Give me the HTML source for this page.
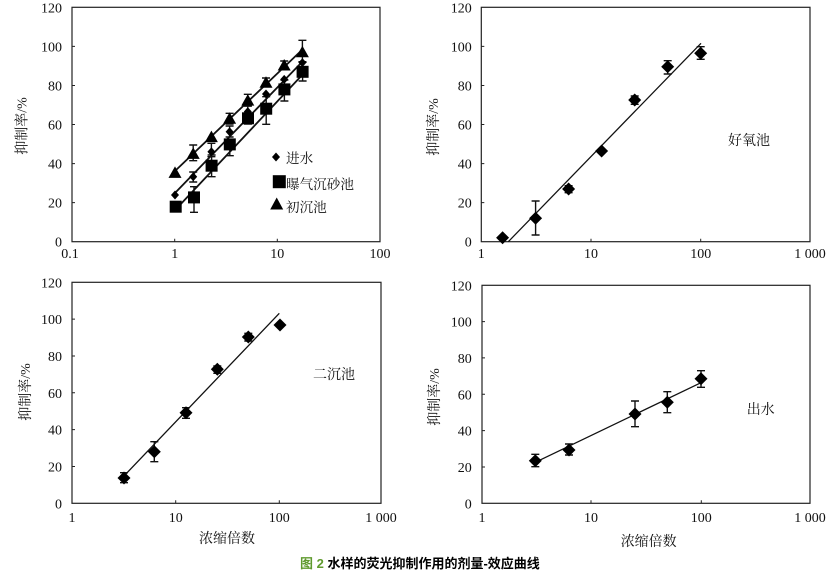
<!DOCTYPE html>
<html><head><meta charset="utf-8"><style>
html,body{margin:0;padding:0;background:#fff;}
svg{display:block;}
.n{font-family:"Liberation Serif","Noto Serif CJK SC",serif;font-size:14px;fill:#111;}
.c{font-family:"Liberation Serif","Noto Serif CJK SC",serif;font-size:14px;fill:#111;}
.cap{font-family:"Liberation Sans","Noto Sans CJK SC",sans-serif;font-size:13px;font-weight:bold;fill:#000;}
</style></head><body>
<svg width="840" height="574" viewBox="0 0 840 574" xmlns="http://www.w3.org/2000/svg">
<g fill="none" stroke="#222" stroke-width="1.2">
<rect x="72" y="7.3" width="308" height="234.4"/>
<rect x="481.3" y="7.3" width="328.7" height="234.4"/>
<rect x="72" y="282.3" width="309" height="221"/>
<rect x="482" y="285.3" width="328" height="218"/>
</g>
<!-- ticks -->
<g stroke="#222" stroke-width="1">
<path d="M72 202.6h3M72 163.6h3M72 124.5h3M72 85.5h3M72 46.4h3M174.7 241.7v-3M277.3 241.7v-3"/>
<path d="M481.3 202.6h3M481.3 163.6h3M481.3 124.5h3M481.3 85.5h3M481.3 46.4h3M591 241.7v-3M700.7 241.7v-3"/>
<path d="M72 466.5h3M72 429.6h3M72 392.8h3M72 356h3M72 319.1h3M175.7 503.3v-3M279.3 503.3v-3"/>
<path d="M482 467h3M482 430.6h3M482 394.3h3M482 357.9h3M482 321.6h3M591 503.3v-3M701.3 503.3v-3"/>
</g>
<!-- y tick labels -->
<g class="n" text-anchor="end">
<text x="62" y="246.7">0</text><text x="62" y="207.6">20</text><text x="62" y="168.6">40</text><text x="62" y="129.5">60</text><text x="62" y="90.5">80</text><text x="62" y="51.4">100</text><text x="62" y="12.3">120</text>
<text x="471.7" y="246.7">0</text><text x="471.7" y="207.6">20</text><text x="471.7" y="168.6">40</text><text x="471.7" y="129.5">60</text><text x="471.7" y="90.5">80</text><text x="471.7" y="51.4">100</text><text x="471.7" y="12.3">120</text>
<text x="62" y="508.3">0</text><text x="62" y="471.5">20</text><text x="62" y="434.6">40</text><text x="62" y="397.8">60</text><text x="62" y="361">80</text><text x="62" y="324.1">100</text><text x="62" y="287.3">120</text>
<text x="471.7" y="508.3">0</text><text x="471.7" y="472">20</text><text x="471.7" y="435.6">40</text><text x="471.7" y="399.3">60</text><text x="471.7" y="362.9">80</text><text x="471.7" y="326.6">100</text><text x="471.7" y="290.3">120</text>
</g>
<!-- x tick labels -->
<g class="n" text-anchor="middle">
<text x="70" y="258">0.1</text><text x="174.7" y="258">1</text><text x="277.3" y="258">10</text><text x="380" y="258">100</text>
<text x="481.3" y="258">1</text><text x="591" y="258">10</text><text x="700.7" y="258">100</text><text x="810" y="258">1 000</text>
<text x="72" y="522">1</text><text x="175.7" y="522">10</text><text x="279.3" y="522">100</text><text x="381" y="522">1 000</text>
<text x="482" y="522">1</text><text x="591" y="522">10</text><text x="701.3" y="522">100</text><text x="810" y="522">1 000</text>
</g>
<!-- axis titles -->
<g class="c" text-anchor="middle">
<text transform="translate(26.5,126) rotate(-90)">抑制率/%</text>
<text transform="translate(438,127) rotate(-90)">抑制率/%</text>
<text transform="translate(30,392) rotate(-90)">抑制率/%</text>
<text transform="translate(439,397) rotate(-90)">抑制率/%</text>
<text x="227" y="543">浓缩倍数</text>
<text x="648.7" y="546">浓缩倍数</text>
</g>
<g class="c">
<text x="728" y="145">好氧池</text>
<text x="313" y="379">二沉池</text>
<text x="746.7" y="414">出水</text>
<text x="286" y="163" font-size="13.6">进水</text>
<text x="286" y="189" font-size="13.6">曝气沉砂池</text>
<text x="286" y="212" font-size="13.6">初沉池</text>
</g>
<!-- fit lines -->
<g stroke="#111" stroke-width="1.8" fill="none">
<path d="M175 171L303 49"/>
<path d="M175 193L303 61"/>
<path d="M178 207L305 72"/>
</g>
<g stroke="#111" stroke-width="1.3" fill="none">
<path d="M508.3 241.7L701 43.3"/>
<path d="M124 476L279.3 313.3"/>
<path d="M535.3 462.3L701 382.7"/>
</g>
<!-- error bars -->
<g stroke="#111" stroke-width="1.4" fill="none">
<path d="M193.2 145v15.7M189.2 145h8M189.2 160.7h8"/>
<path d="M229.6 113.3v10.7M225.6 113.3h8M225.6 124h8"/>
<path d="M247.8 94.3v11.7M243.8 94.3h8M243.8 106h8"/>
<path d="M266 78v8M262 78h8M262 86h8"/>
<path d="M284.2 61v8M280.2 61h8M280.2 69h8"/>
<path d="M302.4 40.3v21.4M298.4 40.3h8M298.4 61.7h8"/>
<path d="M175.7 202v9M171.7 202h8M171.7 211h8"/>
<path d="M194 186.7v25.6M190 186.7h8M190 212.3h8"/>
<path d="M211.6 155v21.7M207.6 155h8M207.6 176.7h8"/>
<path d="M229.8 140v15.7M225.8 140h8M225.8 155.7h8"/>
<path d="M248 113v11M244 113h8M244 124h8"/>
<path d="M266.2 96.7v27.6M262.2 96.7h8M262.2 124.3h8"/>
<path d="M284.4 80v21M280.4 80h8M280.4 101h8"/>
<path d="M302.6 62.3v18.7M298.6 62.3h8M298.6 81h8"/>
<path d="M193.2 172v10M189.2 172h8M189.2 182h8"/>
<path d="M211.4 143.3v13.4M207.4 143.3h8M207.4 156.7h8"/>
<path d="M229.6 126v11M225.6 126h8M225.6 137h8"/>
<path d="M247.8 106v11M243.8 106h8M243.8 117h8"/>
<path d="M535.6 201v34M531.6 201h8M531.6 235h8"/>
<path d="M568.6 185.7v7M564.6 185.7h8M564.6 192.7h8"/>
<path d="M634.7 96v8.3M630.7 96h8M630.7 104.3h8"/>
<path d="M667.7 60.7v13.3M663.7 60.7h8M663.7 74h8"/>
<path d="M700.7 46.7v12.6M696.7 46.7h8M696.7 59.3h8"/>
<path d="M124 472.7v10M120 472.7h8M120 482.7h8"/>
<path d="M154.3 441.7v20M150.3 441.7h8M150.3 461.7h8"/>
<path d="M186 407.7v10.6M182 407.7h8M182 418.3h8"/>
<path d="M217.3 366v7.3M213.3 366h8M213.3 373.3h8"/>
<path d="M248.3 333.3v7.7M244.3 333.3h8M244.3 341h8"/>
<path d="M535.3 454.3v12.4M531.3 454.3h8M531.3 466.7h8"/>
<path d="M569 444v11M565 444h8M565 455h8"/>
<path d="M635 401v25.7M631 401h8M631 426.7h8"/>
<path d="M667.3 391.7v21M663.3 391.7h8M663.3 412.7h8"/>
<path d="M701 370.7v16.6M697 370.7h8M697 387.3h8"/>
</g>
<!-- markers -->
<g fill="#000">
<rect x="169.7" y="200.7" width="12" height="12"/>
<rect x="188" y="191.4" width="12" height="12"/>
<rect x="205.6" y="159.7" width="12" height="12"/>
<rect x="223.8" y="138.4" width="12" height="12"/>
<rect x="242" y="112.3" width="12" height="12"/>
<rect x="260.2" y="102.7" width="12" height="12"/>
<rect x="278.4" y="83.4" width="12" height="12"/>
<rect x="296.6" y="65.8" width="12" height="12"/>
<path d="M175 166.4l6.5 11.5h-13z"/>
<path d="M193.2 147.4l6.5 11.5h-13z"/>
<path d="M211.4 130.6l6.5 11.5h-13z"/>
<path d="M229.6 112.3l6.5 11.5h-13z"/>
<path d="M247.8 94.1l6.5 11.5h-13z"/>
<path d="M266 76.3l6.5 11.5h-13z"/>
<path d="M284.2 59l6.5 11.5h-13z"/>
<path d="M302.4 45.7l6.5 11.5h-13z"/>
<path d="M175 190.5l4 4.5l-4 4.5l-4-4.5z"/>
<path d="M193.2 172.2l4 4.5l-4 4.5l-4-4.5z"/>
<path d="M211.4 147.2l4 4.5l-4 4.5l-4-4.5z"/>
<path d="M229.6 127.2l4 4.5l-4 4.5l-4-4.5z"/>
<path d="M247.8 107.1l4 4.5l-4 4.5l-4-4.5z"/>
<path d="M266 89.5l4 4.5l-4 4.5l-4-4.5z"/>
<path d="M284.2 74.9l4 4.5l-4 4.5l-4-4.5z"/>
<path d="M302.4 58.1l4 4.5l-4 4.5l-4-4.5z"/>
<path d="M276 152.5l4 4.5l-4 4.5l-4-4.5z"/>
<rect x="272.8" y="175.2" width="13" height="13"/>
<path d="M276.7 197.5l6.5 12h-13z"/>
<path d="M502.6 231.2l6.5 6.5l-6.5 6.5l-6.5-6.5z"/>
<path d="M535.6 211.8l6.5 6.5l-6.5 6.5l-6.5-6.5z"/>
<path d="M568.6 182.5l6.5 6.5l-6.5 6.5l-6.5-6.5z"/>
<path d="M601.6 144.5l6.5 6.5l-6.5 6.5l-6.5-6.5z"/>
<path d="M634.7 93.5l6.5 6.5l-6.5 6.5l-6.5-6.5z"/>
<path d="M667.7 60.2l6.5 6.5l-6.5 6.5l-6.5-6.5z"/>
<path d="M700.7 46.8l6.5 6.5l-6.5 6.5l-6.5-6.5z"/>
<path d="M124 471.5l6.5 6.5l-6.5 6.5l-6.5-6.5z"/>
<path d="M154.3 445.2l6.5 6.5l-6.5 6.5l-6.5-6.5z"/>
<path d="M186 406.2l6.5 6.5l-6.5 6.5l-6.5-6.5z"/>
<path d="M217.3 362.8l6.5 6.5l-6.5 6.5l-6.5-6.5z"/>
<path d="M248.3 330.5l6.5 6.5l-6.5 6.5l-6.5-6.5z"/>
<path d="M280 318.5l6.5 6.5l-6.5 6.5l-6.5-6.5z"/>
<path d="M535.3 454.2l6.5 6.5l-6.5 6.5l-6.5-6.5z"/>
<path d="M569 443.5l6.5 6.5l-6.5 6.5l-6.5-6.5z"/>
<path d="M635 407.5l6.5 6.5l-6.5 6.5l-6.5-6.5z"/>
<path d="M667.3 395.8l6.5 6.5l-6.5 6.5l-6.5-6.5z"/>
<path d="M701 372.2l6.5 6.5l-6.5 6.5l-6.5-6.5z"/>
</g>
<text class="cap" x="300" y="568"><tspan fill="#5f9a2e">图 2</tspan> 水样的荧光抑制作用的剂量-效应曲线</text>
</svg>
</body></html>
